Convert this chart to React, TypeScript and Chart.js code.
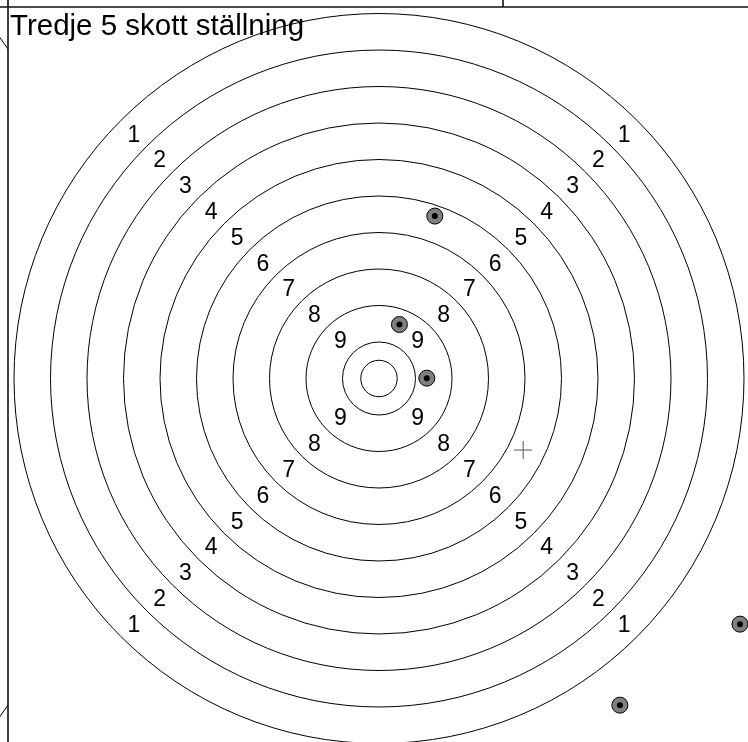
import React, { useEffect, useRef } from "react";
import { Chart, registerables } from "chart.js";

Chart.register(...registerables);

// ---- data (target units: one ring = 10 units, centre = 0,0) ----
const TITLE = "Tredje 5 skott ställning";
const ringRadii = [5, 10, 20, 30, 40, 50, 60, 70, 80, 90, 100];
const ringNumbers = [1, 2, 3, 4, 5, 6, 7, 8, 9];
const labelRadii = [95, 85, 75, 65, 55, 45, 35, 25, 15];
const shotX = [15.3, 5.6, 13.1, 98.9, 66.0];
const shotY = [44.5, 14.8, 0.1, -67.3, -89.5];
const meanX = [39.5];
const meanY = [-19.6];
const xRange = [-103.84, 101.1];
const yRange = [-99.59, 103.7];
// ring of the neighbouring panel, only its edge shows at the far left
const neighbourX = [-234];
const neighbourY = [0.4];
const neighbourR = [160];

const FONT = '"Liberation Sans", Arial, Helvetica, sans-serif';

const targetPlugin = {
  id: "target",
  beforeDatasetsDraw(chart: any) {
    const ctx = chart.ctx;
    const xs = chart.scales.x;
    const ys = chart.scales.y;
    const cx = xs.getPixelForValue(0);
    const cy = ys.getPixelForValue(0);
    const k = xs.getPixelForValue(1) - cx;
    ctx.save();
    ctx.strokeStyle = "#000";
    ctx.lineWidth = 1;
    ringRadii.forEach((r) => {
      ctx.beginPath();
      ctx.arc(cx, cy, r * k, 0, Math.PI * 2);
      ctx.stroke();
    });

    // neighbouring panel ring, clipped to the strip left of the frame
    ctx.save();
    ctx.beginPath();
    ctx.rect(0, 0, 8, chart.height);
    ctx.clip();
    neighbourX.forEach((nx, i) => {
      ctx.beginPath();
      ctx.arc(
        xs.getPixelForValue(nx),
        ys.getPixelForValue(neighbourY[i]),
        neighbourR[i] * k,
        0,
        Math.PI * 2
      );
      ctx.stroke();
    });
    ctx.restore();

    // ring numbers
    const fs = 23;
    ctx.fillStyle = "#000";
    ctx.font = `${fs}px ${FONT}`;
    ctx.textAlign = "center";
    ctx.textBaseline = "alphabetic";
    const dirs = [
      [1, 1],
      [-1, 1],
      [1, -1],
      [-1, -1],
    ];
    ringNumbers.forEach((n, i) => {
      const d = labelRadii[i] * Math.SQRT1_2;
      dirs.forEach(([sx, sy]) => {
        const px = xs.getPixelForValue(sx * d);
        const py = ys.getPixelForValue(sy * d);
        ctx.fillText(String(n), px, py + fs * 0.358);
      });
    });

    // title
    ctx.font = `29.5px ${FONT}`;
    ctx.textAlign = "left";
    ctx.fillText(TITLE, 10, 35);
    ctx.restore();
  },
  afterDraw(chart: any) {
    const ctx = chart.ctx;
    ctx.save();
    ctx.strokeStyle = "#111";
    ctx.lineWidth = 1.6;
    ctx.beginPath();
    ctx.moveTo(0, 7);
    ctx.lineTo(chart.width, 7);
    ctx.moveTo(8, 0);
    ctx.lineTo(8, chart.height);
    ctx.moveTo(503, 0);
    ctx.lineTo(503, 7);
    ctx.stroke();
    ctx.restore();
  },
};

export default function App() {
  const ref = useRef<HTMLCanvasElement | null>(null);
  useEffect(() => {
    if (!ref.current) return;
    const shots = shotX.map((x, i) => ({ x, y: shotY[i] }));
    const mean = meanX.map((x, i) => ({ x, y: meanY[i] }));
    const chart = new Chart(ref.current, {
      type: "scatter",
      data: {
        datasets: [
          {
            label: "centre dots",
            data: shots,
            pointRadius: 3,
            pointHoverRadius: 3,
            backgroundColor: "#000",
            borderWidth: 0,
            order: 0,
          },
          {
            label: "shots",
            data: shots,
            pointRadius: 8,
            pointHoverRadius: 8,
            backgroundColor: "#808080",
            borderColor: "#000",
            borderWidth: 1,
            order: 1,
          },
          {
            label: "mean",
            data: mean,
            pointStyle: "cross",
            pointRadius: 9,
            pointHoverRadius: 9,
            borderColor: "#555",
            borderWidth: 1,
            order: 2,
          },
        ],
      },
      options: {
        animation: false,
        responsive: false,
        events: [],
        layout: { padding: 0, autoPadding: false },
        plugins: {
          legend: { display: false },
          tooltip: { enabled: false },
          title: { display: false },
        },
        scales: {
          x: { type: "linear", min: xRange[0], max: xRange[1], display: false },
          y: { type: "linear", min: yRange[0], max: yRange[1], display: false },
        },
      },
      plugins: [targetPlugin],
    });
    return () => chart.destroy();
  }, []);
  return (
    <div style={{ position: "absolute", left: 0, top: 0, width: 748, height: 742, background: "#fff" }}>
      <canvas ref={ref} width={748} height={742} style={{ display: "block" }} />
    </div>
  );
}
